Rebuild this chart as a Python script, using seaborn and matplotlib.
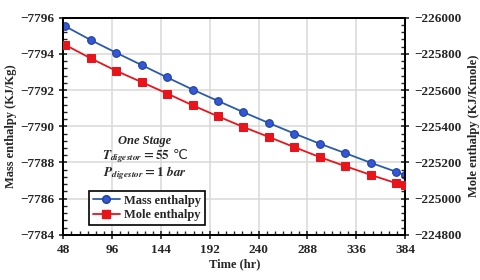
import numpy as np
import pandas as pd
import matplotlib
matplotlib.use("Agg")
import matplotlib.pyplot as plt
from matplotlib.ticker import MultipleLocator, AutoMinorLocator
from matplotlib.lines import Line2D
import seaborn as sns

# data
time_hr = [50, 75, 100, 125, 150, 175, 200, 225, 250, 275, 300, 325, 350, 375, 384]
mass_enthalpy = [-7795.52, -7794.76, -7794.06, -7793.38, -7792.70, -7792.03, -7791.40,
                 -7790.78, -7790.18, -7789.60, -7789.04, -7788.52, -7787.99, -7787.49, -7787.29]
mole_enthalpy = [-225849, -225775, -225706, -225644, -225581, -225516, -225455,
                 -225396, -225341, -225285, -225230, -225180, -225132, -225086, -225073]

df = pd.DataFrame({"time": time_hr, "mass": mass_enthalpy, "mole": mole_enthalpy})

sns.set_style("ticks")
plt.rcParams["font.family"] = ["Liberation Serif", "DejaVu Serif"]
plt.rcParams["font.weight"] = "bold"
plt.rcParams["mathtext.fontset"] = "stix"

blue_line = "#2a5caa"
blue_face = "#3557d6"
red = "#e8141b"

fig = plt.figure(figsize=(4.8, 2.8), dpi=100)
ax = fig.add_axes([0.132, 0.161, 0.712, 0.776])
ax2 = ax.twinx()

sns.lineplot(data=df, x="time", y="mass", ax=ax, color=blue_line, lw=1.3,
             marker="o", markersize=5.5, markerfacecolor=blue_face,
             markeredgecolor="#1d3f9e", markeredgewidth=0.8, zorder=3)
sns.lineplot(data=df, x="time", y="mole", ax=ax2, color=red, lw=1.3,
             marker="s", markersize=5.5, markerfacecolor=red,
             markeredgecolor=red, zorder=3)

ax.set_xlim(48, 384)
ax.set_ylim(-7784, -7796)
ax2.set_ylim(-224800, -226000)
ax.xaxis.set_major_locator(MultipleLocator(48))
ax.xaxis.set_minor_locator(MultipleLocator(8))
ax.yaxis.set_major_locator(MultipleLocator(2))
ax.yaxis.set_minor_locator(AutoMinorLocator(5))
ax2.yaxis.set_major_locator(MultipleLocator(200))
ax2.yaxis.set_minor_locator(AutoMinorLocator(5))

ax.grid(True, which="major", color="#d9d9d9", lw=1.1)
ax.set_axisbelow(True)

for a in (ax, ax2):
    for s in a.spines.values():
        s.set_linewidth(1.3)
        s.set_color("black")
    a.tick_params(which="major", direction="inout", length=6, width=1.2, labelsize=9.5)
    a.tick_params(which="minor", direction="in", length=3, width=1.0)
ax.tick_params(axis="x", which="both", top=False)
ax2.tick_params(axis="y", which="both", left=False)
ax.tick_params(axis="y", which="both", right=False)

ax.set_xlabel("Time (hr)", fontsize=9, fontweight="bold", labelpad=2)
ax.set_ylabel("Mass enthalpy (KJ/Kg)", fontsize=9, fontweight="bold", labelpad=2)
ax2.set_ylabel("Mole enthalpy (KJ/Kmole)", fontsize=9, fontweight="bold", labelpad=5)

ax.text(0.239, 0.432, "One Stage", transform=ax.transAxes, ha="center", va="center",
        fontsize=9, fontstyle="italic", fontweight="bold")
ax.text(0.239, 0.362, r"$T_{digestor}=55$ ℃", transform=ax.transAxes, ha="center",
        va="center", fontsize=9.5, family=["DejaVu Sans"], fontweight="normal")
ax.text(0.239, 0.282, r"$P_{digestor}=1\ bar$", transform=ax.transAxes, ha="center",
        va="center", fontsize=9.5)

handles = [
    Line2D([], [], color=blue_line, lw=1.3, marker="o", markersize=5.5,
           markerfacecolor=blue_face, markeredgecolor="#1d3f9e"),
    Line2D([], [], color=red, lw=1.3, marker="s", markersize=5.5,
           markerfacecolor=red, markeredgecolor=red),
]
leg = ax2.legend(handles, ["Mass enthalpy", "Mole enthalpy"], loc="lower left",
                 bbox_to_anchor=(0.075, 0.046), borderaxespad=0, fontsize=9,
                 frameon=True, fancybox=False, framealpha=1, edgecolor="black",
                 handlelength=2.2, handletextpad=0.3, borderpad=0.3, labelspacing=0.2)
leg.get_frame().set_linewidth(1.2)
for t in leg.get_texts():
    t.set_fontweight("bold")

fig.savefig("out.png", dpi=100)
